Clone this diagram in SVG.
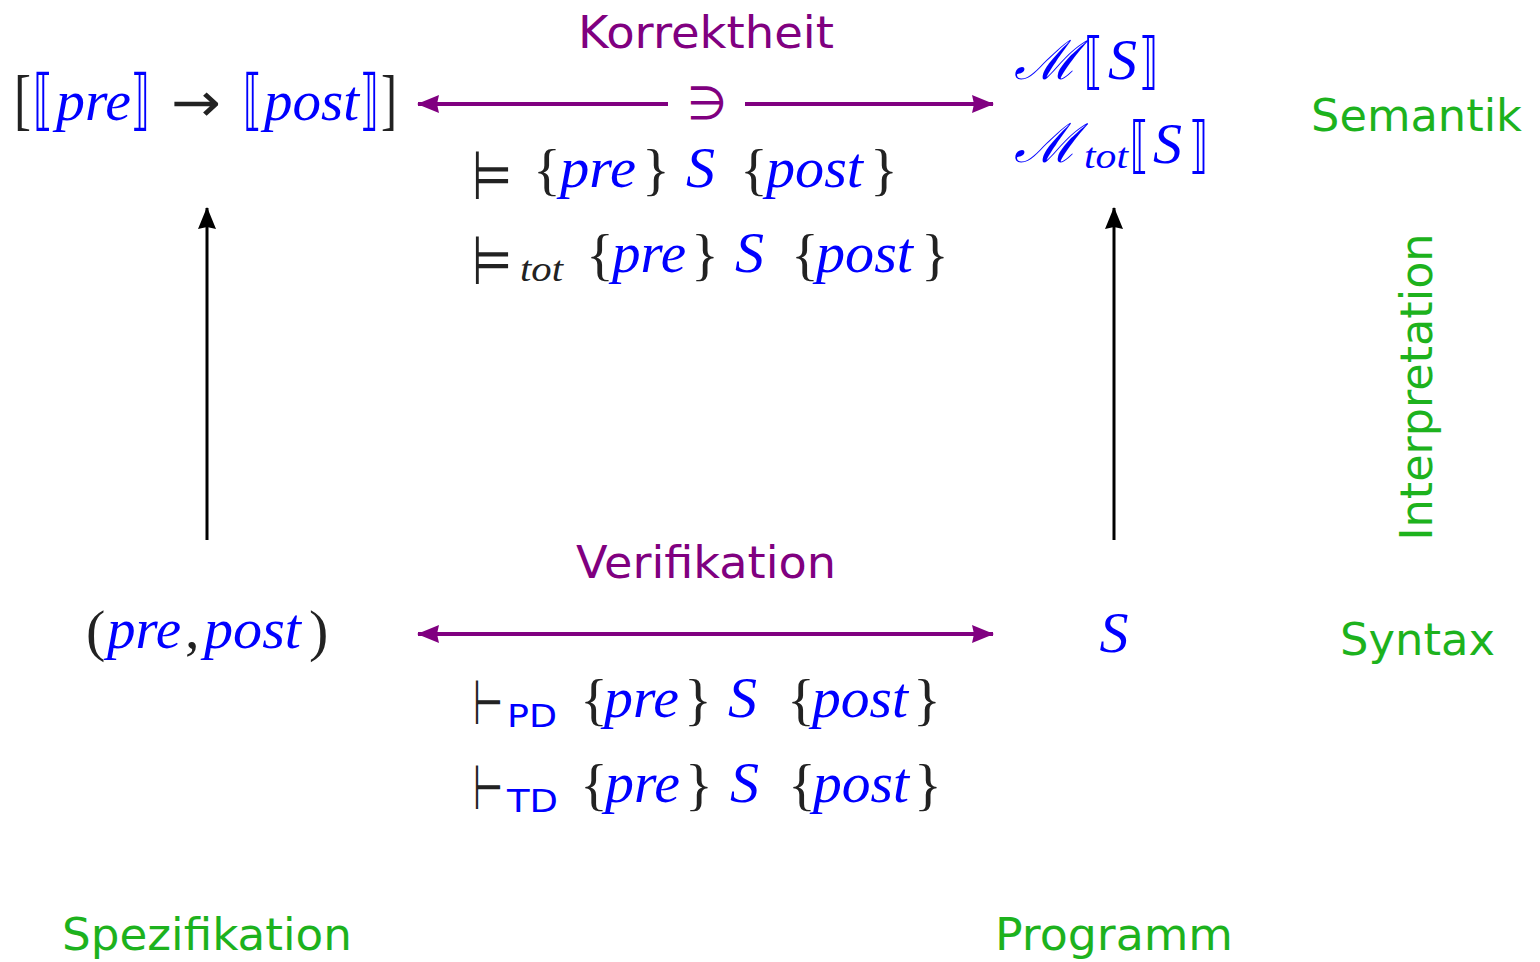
<svg xmlns="http://www.w3.org/2000/svg" width="1540" height="962" viewBox="0 0 1540 962">
<defs>
<style>
text{font-family:"Liberation Serif","DejaVu Serif",serif;font-size:58px;fill:#222}
.i{font-style:italic;fill:#0000ff}
.bl{fill:#0000ff}
.br{font-family:"DejaVu Sans",sans-serif;font-size:66px}
.op{font-family:"DejaVu Sans",sans-serif}
.cal{font-family:"DejaVu Serif",serif;font-style:italic;font-size:54px;fill:#0000ff}
.sb{font-style:italic;font-size:36px}
.s{font-family:"DejaVu Sans","Liberation Sans",sans-serif;font-size:44px}
.g{fill:#1db21d}
.p{fill:#800080}
.ss{font-family:"DejaVu Sans",sans-serif;font-size:32px;fill:#0000ff}
</style>
<marker id="ap" viewBox="0 0 22 20" refX="21" refY="10" markerWidth="22" markerHeight="20" markerUnits="userSpaceOnUse" orient="auto-start-reverse">
<path d="M0,1 L22,10 L0,19 L2,10 Z" fill="#800080"/>
</marker>
<marker id="ak" viewBox="0 0 22 20" refX="21" refY="10" markerWidth="22" markerHeight="20" markerUnits="userSpaceOnUse" orient="auto-start-reverse">
<path d="M0,1 L22,10 L0,19 L2,10 Z" fill="#000"/>
</marker>
</defs>
<rect width="1540" height="962" fill="#fff"/>

<g id="connectors">
<line x1="668" y1="104" x2="418" y2="104" stroke="#800080" stroke-width="4" marker-end="url(#ap)"/>
<line x1="745" y1="104" x2="993" y2="104" stroke="#800080" stroke-width="4" marker-end="url(#ap)"/>
<line x1="418" y1="634" x2="993" y2="634" stroke="#800080" stroke-width="4" marker-start="url(#ap)" marker-end="url(#ap)"/>
<line x1="207" y1="540" x2="207" y2="208" stroke="#000" stroke-width="3" marker-end="url(#ak)"/>
<line x1="1114" y1="540" x2="1114" y2="208" stroke="#000" stroke-width="3" marker-end="url(#ak)"/>
</g>

<g id="korrektheit">
<text class="s p" x="706" y="48" text-anchor="middle" textLength="256" lengthAdjust="spacingAndGlyphs">Korrektheit</text>
<text class="op p" x="707" y="119" text-anchor="middle" style="font-size:46px">∋</text>
</g>

<g id="spec-semantics">
<text x="14" y="122" style="font-size:68px" textLength="17" lengthAdjust="spacingAndGlyphs">[</text>
<text class="br bl" x="33" y="122" textLength="20" lengthAdjust="spacingAndGlyphs">⟦</text>
<text class="i" x="56" y="120" textLength="75" lengthAdjust="spacingAndGlyphs">pre</text>
<text class="br bl" x="131" y="122" textLength="19" lengthAdjust="spacingAndGlyphs">⟧</text>
<text class="op" x="171" y="121" style="font-size:54px" textLength="50" lengthAdjust="spacingAndGlyphs">→</text>
<text class="br bl" x="243" y="122" textLength="19" lengthAdjust="spacingAndGlyphs">⟦</text>
<text class="i" x="264" y="120" textLength="95" lengthAdjust="spacingAndGlyphs">post</text>
<text class="br bl" x="360" y="122" textLength="19" lengthAdjust="spacingAndGlyphs">⟧</text>
<text x="381" y="122" style="font-size:68px" textLength="16" lengthAdjust="spacingAndGlyphs">]</text>
</g>

<g id="prog-semantics">
<text class="cal" x="1014" y="79" textLength="64" lengthAdjust="spacingAndGlyphs">ℳ</text>
<text class="br bl" x="1084" y="82" style="font-size:62px" textLength="19" lengthAdjust="spacingAndGlyphs">⟦</text>
<text class="i" x="1108" y="79">S</text>
<text class="br bl" x="1139" y="82" style="font-size:62px" textLength="19" lengthAdjust="spacingAndGlyphs">⟧</text>
<text class="cal" x="1014" y="162" textLength="64" lengthAdjust="spacingAndGlyphs">ℳ</text>
<text class="i sb" x="1084" y="168" textLength="44" lengthAdjust="spacingAndGlyphs">tot</text>
<text class="br bl" x="1130" y="166" style="font-size:62px" textLength="19" lengthAdjust="spacingAndGlyphs">⟦</text>
<text class="i" x="1153" y="163">S</text>
<text class="br bl" x="1189" y="166" style="font-size:62px" textLength="19" lengthAdjust="spacingAndGlyphs">⟧</text>
</g>

<g id="semantic-validity">
<text class="op" x="472" y="199" style="font-size:68px" textLength="40" lengthAdjust="spacingAndGlyphs">⊨</text>
<text x="533" y="189">{</text>
<text class="i" x="560" y="187" textLength="76" lengthAdjust="spacingAndGlyphs">pre</text>
<text x="642" y="189">}</text>
<text class="i" x="686" y="187">S</text>
<text x="740" y="189">{</text>
<text class="i" x="766" y="187" textLength="97" lengthAdjust="spacingAndGlyphs">post</text>
<text x="870" y="189">}</text>

<text class="op" x="472" y="284" style="font-size:68px" textLength="40" lengthAdjust="spacingAndGlyphs">⊨</text>
<text class="sb" x="520" y="281" style="fill:#222" textLength="43" lengthAdjust="spacingAndGlyphs">tot</text>
<text x="586" y="274">{</text>
<text class="i" x="612" y="272" textLength="74" lengthAdjust="spacingAndGlyphs">pre</text>
<text x="691" y="274">}</text>
<text class="i" x="735" y="272">S</text>
<text x="791" y="274">{</text>
<text class="i" x="816" y="272" textLength="97" lengthAdjust="spacingAndGlyphs">post</text>
<text x="921" y="274">}</text>
</g>

<g id="semantik-label">
<text class="s g" x="1311" y="131" textLength="211" lengthAdjust="spacingAndGlyphs">Semantik</text>
</g>

<g id="interpretation-label">
<text class="s g" transform="translate(1432,387) rotate(-90)" text-anchor="middle" textLength="307" lengthAdjust="spacingAndGlyphs">Interpretation</text>
</g>

<g id="verifikation">
<text class="s p" x="706" y="578" text-anchor="middle" textLength="260" lengthAdjust="spacingAndGlyphs">Verifikation</text>
</g>

<g id="spec-syntax">
<text x="86" y="650">(</text>
<text class="i" x="107" y="648" textLength="74" lengthAdjust="spacingAndGlyphs">pre</text>
<text x="185" y="648">,</text>
<text class="i" x="204" y="648" textLength="97" lengthAdjust="spacingAndGlyphs">post</text>
<text x="309" y="650">)</text>
</g>

<g id="prog-syntax">
<text class="i" x="1114" y="652" text-anchor="middle">S</text>
</g>

<g id="syntax-label">
<text class="s g" x="1340" y="655" textLength="155" lengthAdjust="spacingAndGlyphs">Syntax</text>
</g>

<g id="proofs">
<text class="op" x="473" y="724" style="font-size:62px" textLength="30" lengthAdjust="spacingAndGlyphs">⊢</text>
<text class="ss" x="507" y="727" textLength="50" lengthAdjust="spacingAndGlyphs">PD</text>
<text x="580" y="719">{</text>
<text class="i" x="604" y="717" textLength="75" lengthAdjust="spacingAndGlyphs">pre</text>
<text x="684" y="719">}</text>
<text class="i" x="728" y="717">S</text>
<text x="787" y="719">{</text>
<text class="i" x="812" y="717" textLength="96" lengthAdjust="spacingAndGlyphs">post</text>
<text x="913" y="719">}</text>

<text class="op" x="473" y="809" style="font-size:62px" textLength="30" lengthAdjust="spacingAndGlyphs">⊢</text>
<text class="ss" x="507" y="812" textLength="51" lengthAdjust="spacingAndGlyphs">TD</text>
<text x="580" y="804">{</text>
<text class="i" x="605" y="802" textLength="75" lengthAdjust="spacingAndGlyphs">pre</text>
<text x="685" y="804">}</text>
<text class="i" x="730" y="802">S</text>
<text x="788" y="804">{</text>
<text class="i" x="813" y="802" textLength="96" lengthAdjust="spacingAndGlyphs">post</text>
<text x="914" y="804">}</text>
</g>

<g id="spezifikation-label">
<text class="s g" x="62" y="950" textLength="290" lengthAdjust="spacingAndGlyphs">Spezifikation</text>
</g>
<g id="programm-label">
<text class="s g" x="995" y="950" textLength="238" lengthAdjust="spacingAndGlyphs">Programm</text>
</g>
</svg>
